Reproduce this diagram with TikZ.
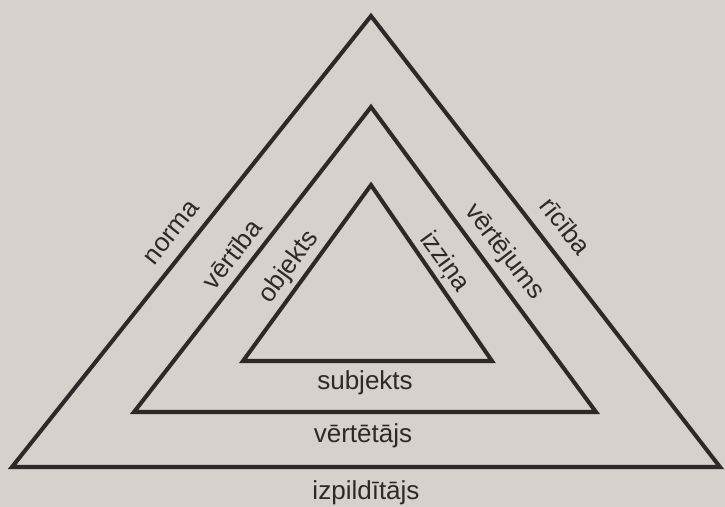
\documentclass[tikz,border=0pt]{standalone}
\usepackage{fontspec}
\setmainfont{Liberation Sans}
\usepackage{xcolor}
\usepackage{tikz}
\usetikzlibrary{calc,positioning}
\definecolor{paper}{RGB}{214,209,204}
\definecolor{ink}{RGB}{45,41,41}

\begin{document}
\begin{tikzpicture}
[x=0.01cm,y=-0.01cm,
 side/.style={draw=ink,line width=1.15pt,line join=miter},
 lbl/.style={inner sep=0pt,text=ink,font=\fontsize{7.4}{9}\selectfont}]
\fill[paper] (0,0) rectangle (725,507);
\useasboundingbox (0,0) rectangle (725,507);
% corners of the three triangles
\coordinate (o1) at (371,16);  \coordinate (o2) at (12,467);  \coordinate (o3) at (720,467);
\coordinate (m1) at (371,107); \coordinate (m2) at (134,412); \coordinate (m3) at (596,412);
\coordinate (i1) at (371,185); \coordinate (i2) at (243,361); \coordinate (i3) at (492,361);
\foreach \t in {o,m,i}
{
	\draw[side] (\t1) -- (\t2) -- (\t3) -- cycle;
}
% left sides
\node[lbl,rotate=51.5] (norma) at (172,233) {norma};
\node[lbl,rotate=52.2] (vertiba) at (232,254) {vērtība};
\node[lbl,rotate=54] (objekts) at (289,267) {objekts};
% right sides
\node[lbl,rotate=-54] (izzina) at (444,262) {izziņa};
\node[lbl,rotate=-52.2] (vertejums) at (504,252) {vērtējums};
\node[lbl,rotate=-51.5] (riciba) at (566,226) {rīcība};
% bottom
\node[lbl] (subjekts) at (365,383) {subjekts};
\node[lbl] (vertetajs) at (363,436) {vērtētājs};
\node[lbl] (izpilditajs) at (366,493) {izpildītājs};
\end{tikzpicture}
\end{document}
